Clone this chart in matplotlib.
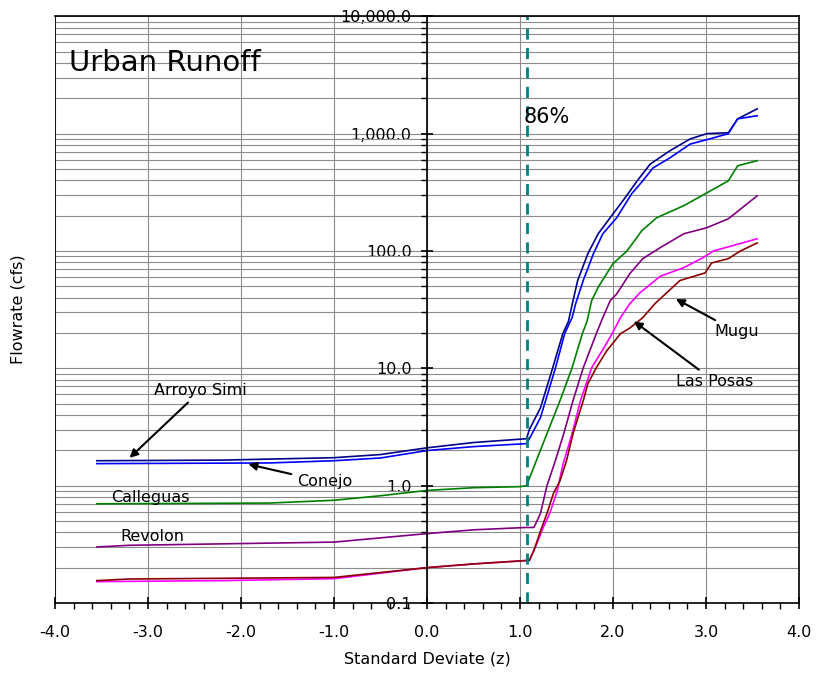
import matplotlib
matplotlib.use("Agg")
import matplotlib.pyplot as plt
from matplotlib.ticker import FixedLocator, LogLocator, FuncFormatter, MultipleLocator, NullFormatter

plt.rcParams['font.family'] = ['DejaVu Sans']

# Arroyo Simi (dark blue)
simi_z = [-3.55, -2.2, -1.0, -0.5, 0.0, 0.5, 1.07, 1.1, 1.22, 1.35, 1.46, 1.52, 1.57, 1.62, 1.73, 1.84, 2.0, 2.13,
          2.26, 2.4, 2.61, 2.83, 3.01, 3.24, 3.34, 3.55]
simi_q = [1.63, 1.65, 1.73, 1.84, 2.1, 2.33, 2.51, 3.0, 4.6, 10, 19.7, 25, 37.7, 56, 95, 140, 207, 284,
          396, 550, 713, 902, 1000, 1017, 1337, 1625]

# Conejo (blue)
conejo_z = [-3.55, -1.7, -1.0, -0.5, 0.0, 0.5, 1.07, 1.1, 1.22, 1.38, 1.48, 1.56, 1.6, 1.68, 1.79, 1.89, 2.04, 2.2,
            2.32, 2.43, 2.61, 2.83, 3.04, 3.24, 3.34, 3.55]
conejo_q = [1.54, 1.56, 1.63, 1.72, 1.99, 2.15, 2.28, 2.5, 3.8, 10, 19.7, 27, 36, 56, 95, 140, 192, 307,
            396, 510, 620, 815, 902, 1000, 1337, 1420]

# Calleguas (green)
calleguas_z = [-3.55, -1.7, -1.0, -0.5, 0.0, 0.5, 1.0, 1.07, 1.23, 1.43, 1.56, 1.67, 1.72, 1.77, 1.84, 2.0, 2.15,
               2.31, 2.47, 2.76, 3.01, 3.24, 3.34, 3.55]
calleguas_q = [0.70, 0.71, 0.75, 0.82, 0.91, 0.96, 0.98, 1.0, 2.1, 5.3, 10.1, 19.7, 25, 37.7, 49, 78, 100,
               149, 192, 243, 313, 396, 532, 588]

# Revolon (purple)
revolon_z = [-3.55, -3.2, -1.0, 0.0, 0.5, 1.07, 1.15, 1.22, 1.29, 1.38, 1.47, 1.57, 1.68, 1.82, 1.89, 1.97, 2.04,
             2.18, 2.32, 2.51, 2.76, 3.01, 3.24, 3.55]
revolon_q = [0.30, 0.31, 0.33, 0.39, 0.42, 0.44, 0.44, 0.58, 1.0, 1.63, 2.77, 5.3, 10.1, 19.7, 27, 37.7, 43,
             64, 86, 107, 140, 158, 188, 295]

# Las Posas (magenta)
posas_z = [-3.55, -2.2, -1.0, 0.0, 0.5, 1.07, 1.1, 1.18, 1.25, 1.32, 1.4, 1.46, 1.56, 1.65, 1.77, 1.88, 1.99,
           2.08, 2.18, 2.29, 2.51, 2.76, 2.96, 3.08, 3.55]
posas_q = [0.152, 0.155, 0.161, 0.20, 0.215, 0.23, 0.23, 0.32, 0.44, 0.58, 0.9, 1.5, 2.77, 5.3, 10.1, 14, 19.7,
           27, 35.5, 44, 61, 72, 87, 100, 127]

# Mugu (dark red)
mugu_z = [-3.55, -3.2, -1.0, 0.0, 0.5, 1.07, 1.1, 1.15, 1.22, 1.29, 1.36, 1.43, 1.5, 1.57, 1.68, 1.73, 1.82,
          1.93, 2.08, 2.18, 2.32, 2.45, 2.72, 2.99, 3.06, 3.24, 3.37, 3.55]
mugu_q = [0.155, 0.16, 0.165, 0.20, 0.215, 0.23, 0.23, 0.28, 0.41, 0.58, 0.86, 1.1, 1.63, 2.77, 5.3, 7.4, 10.1,
          14, 19.7, 22, 27, 35.5, 56, 65, 79, 86, 100, 117]

z_86 = 1.08
y_ticks = [0.1, 1, 10, 100, 1000, 10000]
x_ticks = [-4, -3, -2, -1, 0, 1, 2, 3, 4]

fig = plt.figure(figsize=(8.17, 6.79), dpi=100)
ax = fig.add_axes([0.0673, 0.112, 0.9107, 0.864])

ax.set_yscale('log')
ax.set_xlim(-4, 4)
ax.set_ylim(0.1, 10000)

# grid
ax.yaxis.set_major_locator(FixedLocator(y_ticks))
ax.yaxis.set_minor_locator(LogLocator(base=10, subs=range(2, 10), numticks=20))
ax.yaxis.set_minor_formatter(NullFormatter())
ax.yaxis.set_major_formatter(FuncFormatter(lambda v, p: "{:,.1f}".format(v)))
ax.xaxis.set_major_locator(FixedLocator(x_ticks))
ax.xaxis.set_minor_locator(MultipleLocator(0.2))
ax.xaxis.set_major_formatter(FuncFormatter(lambda v, p: "{:.1f}".format(v)))
ax.grid(True, which='major', axis='both', color='#8c8c8c', lw=0.8)
ax.grid(True, which='minor', axis='y', color='#8c8c8c', lw=0.8)
ax.set_axisbelow(True)

ax.spines['left'].set_position(('data', 0))
ax.axvline(-4, color='k', lw=1.2)
for s in ['top', 'right', 'bottom', 'left']:
    ax.spines[s].set_linewidth(1.2)
ax.tick_params(axis='both', which='major', direction='inout', length=8, width=1.2, labelsize=11.5)
ax.tick_params(axis='both', which='minor', direction='out', length=4, width=1)
ax.tick_params(axis='y', pad=7)
ax.tick_params(axis='x', pad=12)

ax.plot(simi_z, simi_q, color='#00008B', lw=1.2)
ax.plot(conejo_z, conejo_q, color='#0000FF', lw=1.2)
ax.plot(calleguas_z, calleguas_q, color='#008000', lw=1.2)
ax.plot(revolon_z, revolon_q, color='#800080', lw=1.2)
ax.plot(posas_z, posas_q, color='#FF00FF', lw=1.2)
ax.plot(mugu_z, mugu_q, color='#8B0000', lw=1.2)

ax.axvline(z_86, color='#008080', lw=2, ls=(0, (4, 3)))
ax.text(z_86 - 0.04, 1390, "86%", fontsize=15, va='center', ha='left')

ax.text(-3.85, 4000, "Urban Runoff", fontsize=21, va='center', ha='left')

arrow = dict(arrowstyle='-|>', color='k', lw=1.5, mutation_scale=12)
ax.annotate("Arroyo Simi", xy=(-3.22, 1.66), xytext=(-2.93, 5.6), fontsize=11.5,
            ha='left', va='bottom', arrowprops=arrow)
ax.annotate("Conejo", xy=(-1.95, 1.54), xytext=(-1.4, 1.08), fontsize=11.5,
            ha='left', va='center', arrowprops=arrow)
ax.text(-3.4, 0.79, "Calleguas", fontsize=11.5, ha='left', va='center')
ax.text(-3.3, 0.365, "Revolon", fontsize=11.5, ha='left', va='center')
ax.annotate("Mugu", xy=(2.65, 40), xytext=(3.09, 20.5), fontsize=11.5,
            ha='left', va='center', arrowprops=arrow)
ax.annotate("Las Posas", xy=(2.2, 26), xytext=(2.68, 7.7), fontsize=11.5,
            ha='left', va='center', arrowprops=arrow)

ax.set_xlabel("Standard Deviate (z)", fontsize=11.5, labelpad=8)
fig.text(0.022, 0.545, "Flowrate (cfs)", rotation=90, fontsize=11.5, ha='center', va='center')

fig.savefig("out.png", dpi=100)
